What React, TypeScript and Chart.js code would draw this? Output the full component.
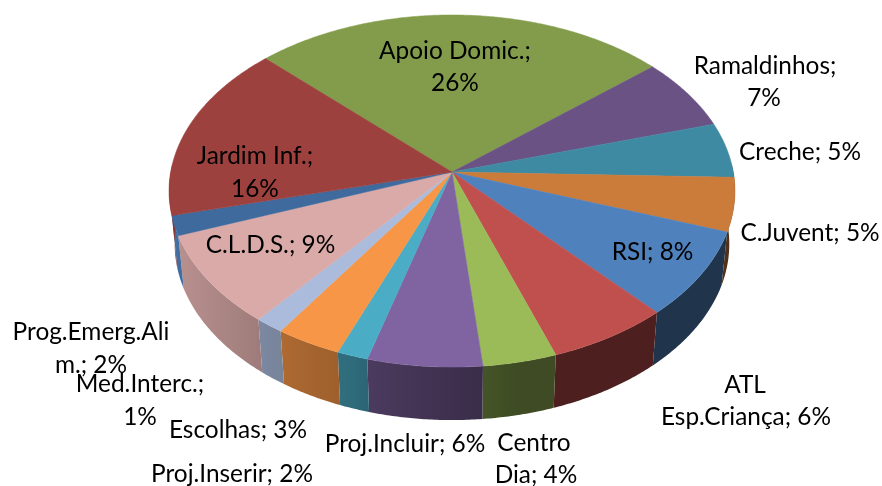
import React, { useEffect, useRef } from "react";
import { Chart, registerables } from "chart.js";

Chart.register(...registerables);

const categories = ["Apoio Domic.", "Ramaldinhos", "Creche", "C.Juvent", "RSI", "ATL Esp.Criança", "Centro Dia", "Proj.Incluir", "Proj.Inserir", "Escolhas", "Med.Interc.", "C.L.D.S.", "Prog.Emerg.Alim.", "Jardim Inf."];
const shares = [26.4, 6.6, 5.05, 4.9, 7.9, 6.3, 3.8, 5.9, 1.6, 3.4, 1.5, 8.4, 1.8, 16.25];
const topColors = ["#829C4C", "#6B5284", "#3E8AA3", "#CB7B3A", "#4F81BD", "#C0504D", "#9BBB59", "#8064A2", "#4BACC6", "#F79646", "#AABBDB", "#D9AAA8", "#3F6A9E", "#9C413E"];
const wallColors = ["#829C4C", "#6B5284", "#3E8AA3", "#CB7B3A", "#4F81BD", "#C0504D", "#9BBB59", "#8064A2", "#4BACC6", "#F79646", "#AABBDB", "#D9AAA8", "#4F81BD", "#9C413E"];

// Text of each data label, with the centre x and baseline y of the line.
const labelLines: [string, number, number][] = [
  ["Apoio Domic.;", 455, 59], ["26%", 455, 91],
  ["Ramaldinhos;", 765, 74], ["7%", 764, 106],
  ["Creche; 5%", 800, 160],
  ["C.Juvent; 5%", 810, 241],
  ["RSI; 8%", 652.5, 260],
  ["ATL", 745, 393], ["Esp.Criança; 6%", 746, 425],
  ["Centro", 534, 451], ["Dia; 4%", 536, 483],
  ["Proj.Incluir; 6%", 405, 452],
  ["Proj.Inserir; 2%", 232, 482],
  ["Escolhas; 3%", 238, 438],
  ["Prog.Emerg.Ali", 91, 340], ["m.; 2%", 91, 373],
  ["Med.Interc.;", 140, 392], ["1%", 140, 425],
  ["C.L.D.S.; 9%", 270.5, 253],
  ["Jardim Inf.;", 255, 164], ["16%", 255, 197],
];

// Perspective of the tilted pie.
const HUB_X = 452;
const HUB_Y = 172;
const RX = 281.3;
const RY = 174;
const TILT = 0.108;
const DEPTH = 53;
const BASE_SCALE = 0.98;

function project(angle: number, base: boolean): [number, number] {
  const u = Math.cos(angle);
  const v = Math.sin(angle);
  const w = 1 / (1 - TILT * v);
  const s = base ? BASE_SCALE : 1;
  return [HUB_X + RX * s * u * w, HUB_Y + RY * v * w + (base ? DEPTH : 0)];
}

const shadeStops: [number, number][] = [[170, 0.86], [260, 0.73], [300, 0.68], [350, 0.63], [370, 0.58], [480, 0.45], [520, 0.4], [740, 0.4]];
function shadeAt(x: number) {
  for (let i = 1; i < shadeStops.length; i++) {
    const [x0, s0] = shadeStops[i - 1];
    const [x1, s1] = shadeStops[i];
    if (x <= x1) return s0 + ((s1 - s0) * (Math.max(x, x0) - x0)) / (x1 - x0);
  }
  return 0.4;
}
function shadeColor(hex: string, f: number) {
  const n = parseInt(hex.slice(1), 16);
  return `rgb(${Math.round(((n >> 16) & 255) * f)},${Math.round(((n >> 8) & 255) * f)},${Math.round((n & 255) * f)})`;
}

function arcPoints(a0: number, a1: number, base: boolean) {
  const steps = Math.max(2, Math.ceil(Math.abs(a1 - a0) / (Math.PI / 360)));
  const pts: [number, number][] = [];
  for (let i = 0; i <= steps; i++) pts.push(project(a0 + ((a1 - a0) * i) / steps, base));
  return pts;
}

const pie3d = {
  id: "pie3d",
  beforeDatasetsDraw(chart: any) {
    const { ctx } = chart;
    const arcs = chart.getDatasetMeta(0).data;
    const norm = (a: number) => {
      const t = a % (2 * Math.PI);
      return t < -Math.PI / 2 ? t + 2 * Math.PI : t;
    };
    ctx.save();
    // Side wall: only the front half of the rim.
    arcs.forEach((arc: any, i: number) => {
      let a0 = norm(arc.startAngle);
      let a1 = a0 + (arc.endAngle - arc.startAngle);
      a0 = Math.max(a0, -0.05);
      a1 = Math.min(a1, Math.PI + 0.05);
      if (a1 <= a0) return;
      const top = arcPoints(a0, a1, false);
      const bottom = arcPoints(a1, a0, true);
      const xs = top.map((p) => p[0]);
      const minX = Math.min(...xs);
      const maxX = Math.max(...xs);
      const grad = ctx.createLinearGradient(minX, 0, maxX + 0.01, 0);
      for (let k = 0; k <= 6; k++) {
        const x = minX + ((maxX - minX) * k) / 6;
        grad.addColorStop(k / 6, shadeColor(wallColors[i], shadeAt(x)));
      }
      ctx.beginPath();
      [...top, ...bottom].forEach((p, k) => (k ? ctx.lineTo(p[0], p[1]) : ctx.moveTo(p[0], p[1])));
      ctx.closePath();
      ctx.fillStyle = grad;
      ctx.fill();
    });
    // Top face.
    arcs.forEach((arc: any, i: number) => {
      const pts = arcPoints(arc.startAngle, arc.endAngle, false);
      ctx.beginPath();
      ctx.moveTo(HUB_X, HUB_Y);
      pts.forEach((p) => ctx.lineTo(p[0], p[1]));
      ctx.closePath();
      ctx.fillStyle = topColors[i];
      ctx.strokeStyle = topColors[i];
      ctx.lineWidth = 0.5;
      ctx.fill();
      ctx.stroke();
    });
    ctx.restore();
    return false;
  },
  afterDraw(chart: any) {
    const { ctx } = chart;
    ctx.save();
    ctx.font = '24.4px Lato, "Open Sans", sans-serif';
    ctx.fillStyle = "#000";
    ctx.textAlign = "center";
    ctx.textBaseline = "alphabetic";
    labelLines.forEach(([text, x, y]) => ctx.fillText(text, x, y));
    ctx.restore();
  },
};

export default function App() {
  const ref = useRef<HTMLCanvasElement | null>(null);
  useEffect(() => {
    document.body.style.margin = "0";
    const chart = new Chart(ref.current as HTMLCanvasElement, {
      type: "pie",
      data: {
        labels: categories,
        datasets: [{ data: shares, backgroundColor: topColors, borderWidth: 0 }],
      },
      options: {
        responsive: false,
        animation: false,
        rotation: -45.5,
        plugins: { legend: { display: false }, tooltip: { enabled: false } },
      },
      plugins: [pie3d],
    } as any);
    return () => chart.destroy();
  }, []);
  return <canvas ref={ref} width={882} height={486} style={{ display: "block", width: 882, height: 486 }} />;
}
